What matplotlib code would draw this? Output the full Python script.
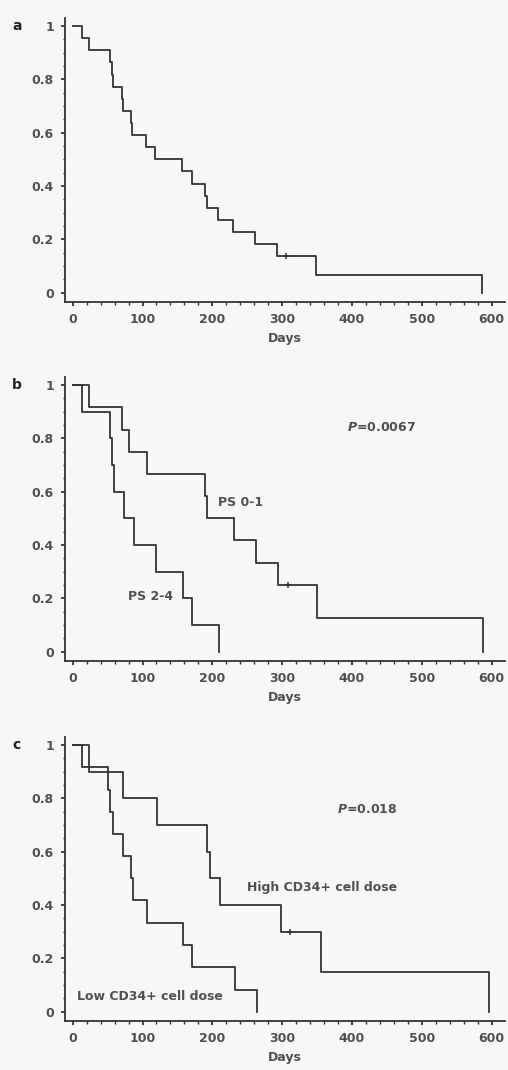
import matplotlib
matplotlib.use("Agg")
import matplotlib.pyplot as plt
from matplotlib.ticker import MultipleLocator

plt.rcParams['font.family'] = ['DejaVu Sans']
plt.rcParams['font.weight'] = 'bold'
plt.rcParams['mathtext.fontset'] = 'custom'
plt.rcParams['mathtext.it'] = 'DejaVu Sans:italic:bold'
plt.rcParams['mathtext.rm'] = 'DejaVu Sans:bold'

# panel a: all patients
a_days = [0, 14, 24, 53, 56, 58, 70, 72, 83, 85, 105, 118, 156, 171, 189, 192, 208, 230, 261, 292, 348, 586]
a_surv = [1, .955, .909, .864, .818, .773, .727, .682, .636, .591, .545, .5, .455, .409, .364, .318, .273, .227, .182, .136, .068, 0]
a_cens = ([306], [.136])

# panel b: performance status
b1_days = [0, 23, 70, 81, 106, 190, 193, 231, 263, 294, 350, 588]
b1_surv = [1, .917, .833, .75, .667, .583, .5, .417, .333, .25, .125, 0]
b2_days = [0, 13, 53, 56, 59, 73, 88, 120, 158, 171, 210]
b2_surv = [1, .9, .8, .7, .6, .5, .4, .3, .2, .1, 0]
b_cens = ([309], [.25])

# panel c: CD34+ cell dose
c1_days = [0, 23, 72, 121, 193, 196, 211, 298, 356, 596]
c1_surv = [1, .9, .8, .7, .6, .5, .4, .3, .15, 0]
c2_days = [0, 14, 51, 54, 58, 72, 84, 87, 107, 158, 171, 232, 264]
c2_surv = [1, .917, .833, .75, .667, .583, .5, .417, .333, .25, .167, .083, 0]
c_cens = ([311], [.3])

bg = '#f6f7f8'
ink = '#333333'
txt = '#505050'
fs = 9.0
W, H = 508, 1070

fig = plt.figure(figsize=(W / 100, H / 100), dpi=100, facecolor=bg)


def make_axes(top_px, bottom_px, letter):
    ax = fig.add_axes([65 / W, 1 - bottom_px / H, 440 / W, (bottom_px - top_px) / H])
    ax.set_facecolor(bg)
    ax.set_xlim(-11, 619)
    ax.set_ylim(-0.035, 1.03)
    for s in ['top', 'right']:
        ax.spines[s].set_visible(False)
    for s in ['left', 'bottom']:
        ax.spines[s].set_color(ink)
        ax.spines[s].set_linewidth(1.3)
    ax.xaxis.set_major_locator(MultipleLocator(100))
    ax.xaxis.set_minor_locator(MultipleLocator(20))
    ax.yaxis.set_minor_locator(MultipleLocator(0.05))
    ax.set_yticks([0, .2, .4, .6, .8, 1])
    ax.set_yticklabels(['0', '0.2', '0.4', '0.6', '0.8', '1'])
    ax.tick_params(which='major', length=3, width=1.3, color=ink, labelsize=fs,
                   labelcolor=txt, pad=5)
    ax.tick_params(which='minor', length=1.8, width=1, color=ink)
    ax.set_xlabel('Days', fontsize=fs, color=txt, labelpad=4, fontweight='bold')
    ax.text(-0.12, 1.0, letter, transform=ax.get_yaxis_transform(), fontsize=10,
            fontweight='bold', color='#222222', va='center', ha='left')
    return ax


def km(ax, days, surv):
    ax.step(days, surv, where='post', color=ink, lw=1.3)


def censor(ax, pts):
    ax.plot(pts[0], pts[1], marker='+', ms=4.5, mew=1.1, color=ink, ls='none')


ax = make_axes(18, 302, 'a')
km(ax, a_days, a_surv)
censor(ax, a_cens)

ax = make_axes(377, 661, 'b')
km(ax, b1_days, b1_surv)
km(ax, b2_days, b2_surv)
censor(ax, b_cens)
ax.text(393, 0.84, r'$\mathit{P}$=0.0067', fontsize=fs, color=txt, va='center')
ax.text(208, 0.56, 'PS 0-1', fontsize=fs, color=txt, va='center')
ax.text(79, 0.206, 'PS 2-4', fontsize=fs, color=txt, va='center')

ax = make_axes(737, 1021, 'c')
km(ax, c1_days, c1_surv)
km(ax, c2_days, c2_surv)
censor(ax, c_cens)
ax.text(378, 0.757, r'$\mathit{P}$=0.018', fontsize=fs, color=txt, va='center')
ax.text(249, 0.464, 'High CD34+ cell dose', fontsize=fs, color=txt, va='center')
ax.text(6, 0.058, 'Low CD34+ cell dose', fontsize=fs, color=txt, va='center')

fig.savefig('out.png', dpi=100, facecolor=bg)
